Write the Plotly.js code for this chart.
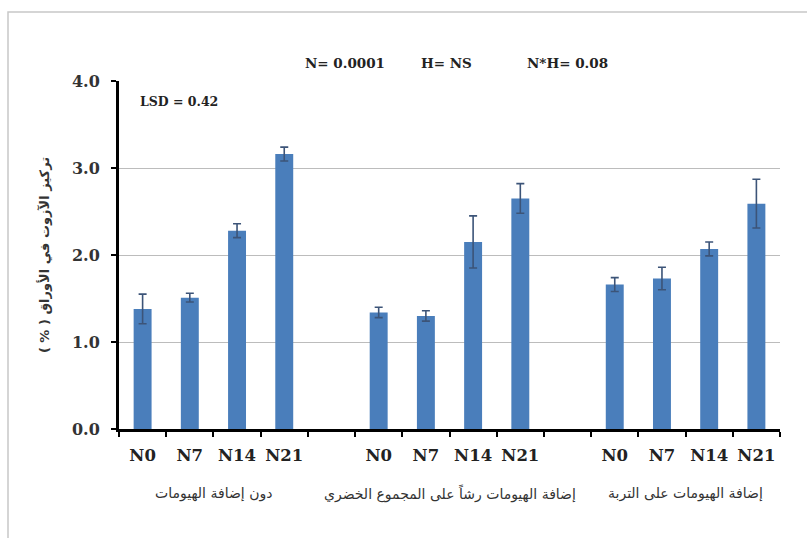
<!DOCTYPE html>
<html>
<head>
<meta charset="utf-8">
<script src="https://cdn.plot.ly/plotly-3.0.1.min.js"></script>
<style>
  html, body { margin: 0; padding: 0; background: #ffffff; }
  #chart { width: 807px; height: 538px; }
</style>
</head>
<body>
<div id="chart"></div>
<script>
// Nitrogen level labels shown under each bar
const nLevels = ['N0', 'N7', 'N14', 'N21'];

// Humate application treatments (one group of bars each)
const groups = [
  'دون إضافة الهيومات',
  'إضافة الهيومات رشاً على المجموع الخضري',
  'إضافة الهيومات على التربة'
];

// Leaf nitrogen concentration (%) per treatment, N0..N21
const noHumate    = [1.38, 1.51, 2.28, 3.16];
const foliarSpray = [1.34, 1.30, 2.15, 2.65];
const soilApplied = [1.66, 1.73, 2.07, 2.59];

// Standard errors for the same bars
const errNoHumate    = [0.17, 0.05, 0.08, 0.08];
const errFoliarSpray = [0.06, 0.06, 0.30, 0.17];
const errSoilApplied = [0.08, 0.13, 0.08, 0.28];

// Statistical notes
const statNotes = ['N= 0.0001', 'H= NS', 'N*H= 0.08'];
const lsdNote = 'LSD = 0.42';

// Trailing RLM keeps the bracketed unit at the end of the right-to-left run
const yTitle = 'تركيز الآزوت في الأوراق ( % )\u200F';

// Lay the bars out in three clusters with one empty slot between clusters
const seriesValues = [noHumate, foliarSpray, soilApplied];
const seriesErrors = [errNoHumate, errFoliarSpray, errSoilApplied];
const slotsPerGroup = nLevels.length + 1;

const xs = [], ys = [], es = [], labels = [];
seriesValues.forEach((vals, g) => {
  vals.forEach((v, j) => {
    xs.push(g * slotsPerGroup + j);
    ys.push(v);
    es.push(seriesErrors[g][j]);
    labels.push(nLevels[j]);
  });
});

const totalSlots = groups.length * slotsPerGroup - 1;
const boundaries = [];
for (let k = 0; k <= totalSlots; k++) boundaries.push(k - 0.5);

const groupCenters = groups.map((_, g) => g * slotsPerGroup + (nLevels.length - 1) / 2);

const serif = 'DejaVu Serif';
const arabic = 'DejaVu Sans';

const bars = {
  type: 'bar',
  x: xs,
  y: ys,
  marker: { color: '#4a7ebb', line: { width: 0 } },
  error_y: {
    type: 'data',
    array: es,
    visible: true,
    color: '#3c5478',
    thickness: 1.6,
    width: 4
  },
  hoverinfo: 'x+y',
  xaxis: 'x',
  yaxis: 'y'
};

// Invisible trace that carries the tick-mark axis
const tickCarrier = {
  type: 'scatter',
  x: [boundaries[0], boundaries[boundaries.length - 1]],
  y: [0, 0],
  mode: 'markers',
  marker: { opacity: 0 },
  hoverinfo: 'skip',
  showlegend: false,
  xaxis: 'x2',
  yaxis: 'y'
};

const annotations = [];
const statX = [345, 446, 567];
statNotes.forEach((t, i) => {
  annotations.push({
    text: '<b>' + t + '</b>',
    xref: 'paper', yref: 'paper',
    x: (statX[i] - 119) / 661, y: (429 - 63) / 348,
    xanchor: 'center', yanchor: 'middle',
    showarrow: false,
    font: { family: serif, size: 13.5, color: '#222' }
  });
});
annotations.push({
  text: '<b>' + lsdNote + '</b>',
  xref: 'paper', yref: 'paper',
  x: (138 - 119) / 661, y: (429 - 101) / 348,
  xanchor: 'left', yanchor: 'middle',
  showarrow: false,
  font: { family: serif, size: 12.5, color: '#222' }
});
groups.forEach((g, i) => {
  annotations.push({
    text: g,
    xref: 'x', yref: 'paper',
    x: groupCenters[i], y: (429 - 494) / 348,
    xanchor: 'center', yanchor: 'middle',
    showarrow: false,
    font: { family: arabic, size: 14, color: '#333' }
  });
});

const layout = {
  width: 807,
  height: 538,
  margin: { l: 119, r: 27, t: 81, b: 109, pad: 0 },
  paper_bgcolor: '#ffffff',
  plot_bgcolor: '#ffffff',
  showlegend: false,
  bargap: 0.62,
  xaxis: {
    range: [boundaries[0], boundaries[boundaries.length - 1]],
    tickmode: 'array',
    tickvals: xs,
    ticktext: labels.map(t => '<b>' + t + '</b>'),
    ticks: '',
    showgrid: false,
    zeroline: false,
    showline: false,
    tickfont: { family: serif, size: 16.5, color: '#222' },
    ticklabelstandoff: 14,
    fixedrange: true
  },
  xaxis2: {
    overlaying: 'x',
    anchor: 'y',
    side: 'bottom',
    range: [boundaries[0], boundaries[boundaries.length - 1]],
    tickmode: 'array',
    tickvals: boundaries,
    showticklabels: false,
    ticks: 'outside',
    ticklen: 5,
    tickwidth: 2,
    tickcolor: '#000',
    showline: true,
    linecolor: '#000',
    linewidth: 3,
    showgrid: false,
    zeroline: false,
    fixedrange: true
  },
  yaxis: {
    range: [0, 4],
    tickmode: 'linear',
    tick0: 0,
    dtick: 1,
    tickformat: '.1f',
    ticks: 'outside',
    ticklen: 5,
    tickwidth: 2,
    tickcolor: '#000',
    showline: true,
    linecolor: '#000',
    linewidth: 3,
    showgrid: true,
    gridcolor: '#bcbcbc',
    gridwidth: 1,
    zeroline: false,
    ticklabelstandoff: 8,
    tickfont: { family: serif, size: 16, color: '#333', weight: 'bold' },
    title: {
      text: yTitle,
      standoff: 20,
      font: { family: arabic, size: 13, color: '#333', weight: 'bold' }
    },
    fixedrange: true
  },
  shapes: [{
    type: 'rect',
    xref: 'paper', yref: 'paper',
    x0: (8 - 119) / 661, x1: 1.2,
    y0: -0.5, y1: (429 - 12) / 348,
    line: { color: '#c8c8c8', width: 1.5 },
    fillcolor: 'rgba(0,0,0,0)',
    layer: 'below'
  }],
  annotations: annotations
};

Plotly.newPlot('chart', [bars, tickCarrier], layout, { displayModeBar: false, staticPlot: true });
</script>
</body>
</html>
